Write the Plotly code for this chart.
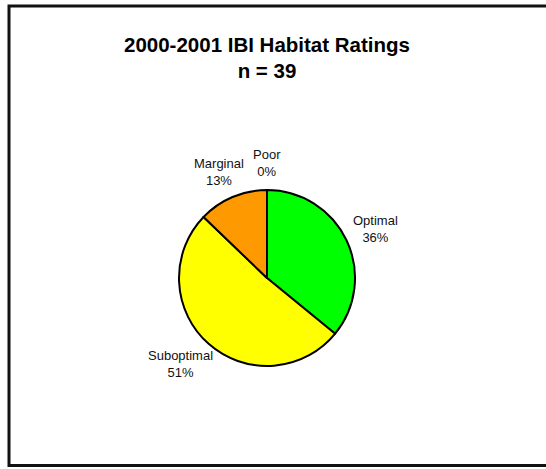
import math
import plotly.graph_objects as go

# ---- data ----
categories = ["Optimal", "Suboptimal", "Marginal", "Poor"]
counts = [14, 20, 5, 0]
colors = ["#00FF00", "#FFFF00", "#FF9900", "#FF0000"]
title_line1 = "2000-2001 IBI Habitat Ratings"
title_line2 = "n = 39"

# ---- layout geometry (pixels, top-left origin) ----
W, H = 546, 469
cx, cy, r = 267, 278, 88
FONT = "Liberation Sans, Arial, sans-serif"

total = sum(counts)
pcts = [round(c / total * 100) for c in counts]

fig = go.Figure(go.Pie(
    labels=categories,
    values=counts,
    sort=False,
    direction="clockwise",
    rotation=0,
    marker=dict(colors=colors, line=dict(color="black", width=2)),
    textinfo="none",
    hoverinfo="label+percent",
    showlegend=False,
    domain=dict(x=[(cx - r) / W, (cx + r) / W],
                y=[(H - cy - r) / H, (H - cy + r) / H]),
))

annotations = []
cum = 0
for cat, c, p in zip(categories, counts, pcts):
    frac_mid = (cum + c / 2) / total
    cum += c
    theta = 2 * math.pi * frac_mid
    ux, uy = math.sin(theta), -math.cos(theta)
    pct_txt = f"{p}%"
    tw = max(len(cat), len(pct_txt)) * 6.6
    th = 36
    d = 1.1 * r
    px = cx + d * ux + tw / 2 * ux
    py = cy + d * uy + th / 2 * uy
    annotations.append(dict(
        x=px / W, y=1 - py / H, xref="paper", yref="paper",
        text=f"{cat}<br>{pct_txt}", showarrow=False,
        xanchor="center", yanchor="middle", align="center",
        font=dict(family=FONT, size=13, color="#111111"),
    ))

fig.update_layout(
    width=W, height=H,
    margin=dict(l=0, r=0, t=0, b=0),
    paper_bgcolor="white",
    plot_bgcolor="white",
    title=dict(
        text=f"{title_line1}<br>{title_line2}",
        x=cx / W, xanchor="center",
        y=1 - 51.5 / H, yanchor="middle",
        font=dict(family=FONT, size=20.5, color="black", weight="bold"),
    ),
    annotations=annotations,
    shapes=[dict(
        type="rect", xref="paper", yref="paper",
        x0=9 / W, x1=1.02, y0=1 - 465.5 / H, y1=1 - 6 / H,
        line=dict(color="#111111", width=3), fillcolor="rgba(0,0,0,0)",
    )],
)

fig.write_html("out.html",
               config={"displayModeBar": False},
               post_script="document.body.style.margin='0';document.body.style.overflow='hidden';")
